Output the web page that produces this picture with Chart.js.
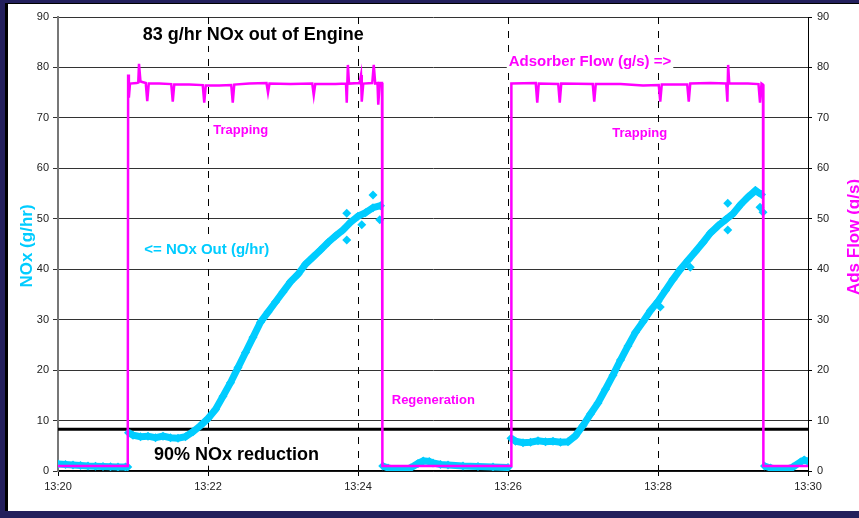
<!DOCTYPE html>
<html>
<head>
<meta charset="utf-8">
<script src="https://cdn.jsdelivr.net/npm/chart.js@4.4.0/dist/chart.umd.min.js"></script>
<style>
  html, body { margin: 0; padding: 0; background: #231f5c; overflow: hidden; }
  #frame { position: absolute; left: 5px; top: 3px; width: 854px; height: 507px; background: #fff; border-left: 3px solid #000; border-top: 1px solid #000; }
  #wrap { position: absolute; left: 0; top: 0; width: 859px; height: 518px; }
</style>
</head>
<body>
<div id="frame"></div>
<div id="wrap"><canvas id="chart"></canvas></div>
<script>
// Time axis: minutes after 13:20
const xTickLabels = ['13:20', '13:22', '13:24', '13:26', '13:28', '13:30'];

// NOx out (g/hr) - null breaks the trace between trap / regen phases
const noxMin = [
  0, 0.1, 0.2, 0.3, 0.4, 0.5, 0.6, 0.7, 0.8, 0.9, 0.93, 0.935,
  0.94, 1.0, 1.1, 1.2, 1.3, 1.4, 1.5, 1.6, 1.7, 1.8, 1.9, 2.0, 2.1, 2.2, 2.3, 2.4, 2.5,
  2.6, 2.7, 2.8, 2.9, 3.0, 3.1, 3.2, 3.3, 3.4, 3.5, 3.6, 3.7, 3.8, 3.9, 4.0, 4.1, 4.2, 4.3, 4.32,
  4.33, 4.4, 4.5, 4.6, 4.7, 4.8, 4.87, 4.95, 5.0, 5.1, 5.2, 5.4, 5.6, 5.8, 6.0, 6.03,
  6.04, 6.1, 6.2, 6.3, 6.4, 6.5, 6.6, 6.7, 6.8, 6.9, 7.0, 7.1, 7.2, 7.3, 7.4, 7.5, 7.6, 7.7,
  7.8, 7.9, 8.0, 8.1, 8.2, 8.3, 8.4, 8.5, 8.6, 8.7, 8.8, 8.9, 9.0, 9.1, 9.2, 9.3, 9.38, 9.40,
  9.42, 9.5, 9.6, 9.7, 9.8, 9.9, 9.95, 10.0
];
const noxOut = [
  1.4, 1.3, 1.2, 1.1, 1.0, 0.95, 0.9, 0.85, 0.8, 0.8, 0.8, null,
  7.6, 7.1, 6.8, 6.9, 6.6, 6.9, 6.6, 6.5, 6.8, 7.8, 9.0, 10.4, 12.2, 14.8, 17.5, 20.5, 23.5,
  26.5, 29.5, 31.5, 33.5, 35.5, 37.5, 39.0, 41.0, 42.4, 43.8, 45.3, 46.6, 47.8, 49.3, 50.5, 51.2, 52.2, 52.6, null,
  1.0, 0.6, 0.3, 0.25, 0.6, 1.5, 2.0, 1.9, 1.6, 1.3, 1.2, 1.0, 0.9, 0.8, 0.7, null,
  6.5, 5.9, 5.6, 5.7, 6.0, 5.8, 5.9, 5.7, 5.8, 7.0, 9.0, 11.3, 13.5, 16.2, 19.0, 22.0, 24.8, 27.5,
  29.6, 31.8, 33.6, 35.8, 38.0, 40.0, 41.8, 43.5, 45.3, 47.2, 48.6, 49.8, 51.0, 52.8, 54.3, 55.6, 54.8, null,
  1.0, 0.6, 0.3, 0.3, 0.8, 1.8, 2.2, 1.9
];

// scattered NOx readings
const outlierMin = [3.85, 3.85, 4.05, 4.2, 4.29, 8.03, 8.43, 8.93, 8.93, 9.36, 9.4];
const outlierNox = [51.1, 45.8, 48.8, 54.7, 49.8, 32.5, 40.4, 53.1, 47.8, 52.3, 51.3];

// Adsorber flow (g/s)
const flowMin = [
  0, 0.5, 0.93, 0.935, 0.945, 0.96, 1.05, 1.07, 1.08, 1.10, 1.17, 1.19, 1.21,
  1.35, 1.51, 1.53, 1.55, 1.75, 1.93, 1.95, 1.97, 2.15, 2.31, 2.33, 2.35, 2.55,
  2.78, 2.80, 2.82, 3.1, 3.39, 3.41, 3.43, 3.7, 3.84, 3.85, 3.865, 3.88,
  4.02, 4.04, 4.05, 4.07, 4.19, 4.21, 4.23, 4.26, 4.27, 4.29, 4.32, 4.325,
  5.0, 6.04, 6.045, 6.37, 6.39, 6.41, 6.67, 6.69, 6.71, 7.13, 7.15, 7.17,
  7.5, 7.8, 8.01, 8.03, 8.05, 8.39, 8.41, 8.43, 8.7, 8.91, 8.925, 8.935, 8.95,
  9.2, 9.34, 9.36, 9.38, 9.40, 9.405, 10
];
const flowGs = [
  1.0, 1.0, 1.0, 78.6, 74.0, 76.8, 76.9, 77.0, 80.7, 77.2, 76.9, 73.3, 76.8,
  76.8, 76.7, 73.2, 76.6, 76.6, 76.5, 73.0, 76.4, 76.4, 76.5, 73.0, 76.6, 76.8,
  76.9, 75.0, 76.8, 76.7, 76.8, 74.5, 76.7, 76.7, 76.8, 73.0, 80.5, 76.8,
  76.9, 78.5, 73.2, 76.8, 76.9, 80.5, 76.8, 76.9, 72.6, 76.9, 76.9, 1.0,
  1.0, 1.0, 76.8, 76.9, 73.0, 76.8, 76.7, 73.0, 76.8, 76.7, 73.2, 76.7,
  76.7, 76.4, 76.5, 73.2, 76.6, 76.6, 73.2, 76.8, 76.9, 76.8, 73.2, 80.5, 76.8,
  76.8, 76.7, 73.0, 76.8, 76.6, 1.0, 1.0
];

// 90% reduction of 83 g/hr engine-out NOx
const thresholdMin = [0, 10];
const thresholdNox = [8.3, 8.3];

const FONT = '"Liberation Sans", Arial, Helvetica, sans-serif';
const CYAN = '#00ccff';
const MAGENTA = '#ff00ff';

// chart annotations (anchored in data units, left / middle)
const notes = [
  { text: '83 g/hr NOx out of Engine', x: 1.13, y: 86.4, size: 18, color: '#000' },
  { text: 'Adsorber Flow (g/s) =>', x: 6.01, y: 81.1, size: 15, color: MAGENTA },
  { text: 'Trapping', x: 2.07, y: 67.6, size: 13, color: MAGENTA },
  { text: 'Trapping', x: 7.39, y: 67.0, size: 13, color: MAGENTA },
  { text: '<= NOx Out (g/hr)', x: 1.15, y: 43.8, size: 15, color: CYAN },
  { text: 'Regeneration', x: 4.45, y: 13.9, size: 13, color: MAGENTA },
  { text: '90% NOx reduction', x: 1.28, y: 3.2, size: 18, color: '#000' }
];

function pairs(xs, ys) {
  return xs.map((v, i) => ({ x: v, y: ys[i] }));
}

const overlay = {
  id: 'overlay',
  beforeDatasetsDraw(chart) {
    const { ctx, chartArea, scales: { x } } = chart;
    ctx.save();
    ctx.strokeStyle = '#000';
    ctx.lineWidth = 1;
    ctx.setLineDash([7, 7]);
    x.ticks.forEach(t => {
      if (t.value <= x.min || t.value >= x.max) return;
      const px = Math.round(x.getPixelForValue(t.value)) + 0.5;
      ctx.beginPath();
      ctx.moveTo(px, chartArea.top);
      ctx.lineTo(px, chartArea.bottom);
      ctx.stroke();
    });
    ctx.restore();
  },
  afterDatasetsDraw(chart) {
    const { ctx, scales: { x, y } } = chart;
    ctx.save();
    notes.forEach(n => {
      ctx.font = `bold ${n.size}px ${FONT}`;
      const w = ctx.measureText(n.text).width;
      const px = x.getPixelForValue(n.x);
      const py = y.getPixelForValue(n.y);
      ctx.fillStyle = '#fff';
      ctx.fillRect(px - 2, py - n.size * 0.6, w + 4, n.size * 1.2);
      ctx.fillStyle = n.color;
      ctx.textAlign = 'left';
      ctx.textBaseline = 'middle';
      ctx.fillText(n.text, px, py);
    });
    ctx.restore();
  },
  afterDraw(chart) {
    const { ctx } = chart;
    const title = (text, color, cx, cy) => {
      ctx.save();
      ctx.translate(cx, cy);
      ctx.rotate(-Math.PI / 2);
      ctx.font = `bold 17px ${FONT}`;
      ctx.fillStyle = color;
      ctx.textAlign = 'center';
      ctx.textBaseline = 'middle';
      ctx.fillText(text, 0, 0);
      ctx.restore();
    };
    title('NOx (g/hr)', CYAN, 27, 246);
    title('Ads Flow (g/s)', MAGENTA, 854, 237);
  }
};

new Chart(document.getElementById('chart'), {
  type: 'line',
  data: {
    datasets: [
      {
        label: 'Adsorber Flow (g/s)',
        data: pairs(flowMin, flowGs),
        yAxisID: 'y2',
        borderColor: MAGENTA,
        borderWidth: 2.5,
        pointRadius: 0,
        order: 0
      },
      {
        label: 'NOx Out (g/hr)',
        data: pairs(noxMin, noxOut),
        yAxisID: 'y',
        borderColor: CYAN,
        backgroundColor: CYAN,
        borderWidth: 7,
        pointStyle: 'rectRot',
        pointRadius: 4.5,
        pointBorderWidth: 0,
        spanGaps: false,
        order: 1
      },
      {
        label: 'NOx outliers',
        data: pairs(outlierMin, outlierNox),
        yAxisID: 'y',
        showLine: false,
        backgroundColor: CYAN,
        borderColor: CYAN,
        pointStyle: 'rectRot',
        pointRadius: 4.5,
        pointBorderWidth: 0,
        order: 1
      },
      {
        label: '90% NOx reduction',
        data: pairs(thresholdMin, thresholdNox),
        yAxisID: 'y',
        borderColor: '#000',
        borderWidth: 3,
        pointRadius: 0,
        order: 2
      }
    ]
  },
  options: {
    responsive: true,
    maintainAspectRatio: false,
    animation: false,
    events: [],
    layout: { padding: { top: 17, left: 0, right: 0, bottom: 0 } },
    plugins: { legend: { display: false }, tooltip: { enabled: false } },
    scales: {
      x: {
        type: 'linear',
        min: 0,
        max: 10,
        ticks: {
          stepSize: 2,
          padding: 4,
          color: '#222',
          font: { family: FONT, size: 11 },
          callback: v => xTickLabels[Math.round(v / 2)]
        },
        grid: { drawOnChartArea: false, drawTicks: true, tickLength: 5, color: '#000' },
        border: { color: '#000', width: 1.5 },
        afterFit: s => { s.height = 47; s.paddingLeft = 0; s.paddingRight = 0; }
      },
      y: {
        position: 'left',
        min: 0,
        max: 90,
        ticks: { stepSize: 10, padding: 4, color: '#222', font: { family: FONT, size: 11 } },
        grid: { color: '#333', lineWidth: 1, tickLength: 5 },
        border: { color: '#777', width: 2 },
        afterFit: s => { s.width = 58; s.paddingTop = 0; s.paddingBottom = 0; }
      },
      y2: {
        position: 'right',
        min: 0,
        max: 90,
        ticks: { stepSize: 10, padding: 5, color: '#222', font: { family: FONT, size: 11 } },
        grid: { drawOnChartArea: false, color: '#000', tickLength: 4 },
        border: { color: '#000', width: 1 },
        afterFit: s => { s.width = 51; s.paddingTop = 0; s.paddingBottom = 0; }
      }
    }
  },
  plugins: [overlay]
});
</script>
</body>
</html>
